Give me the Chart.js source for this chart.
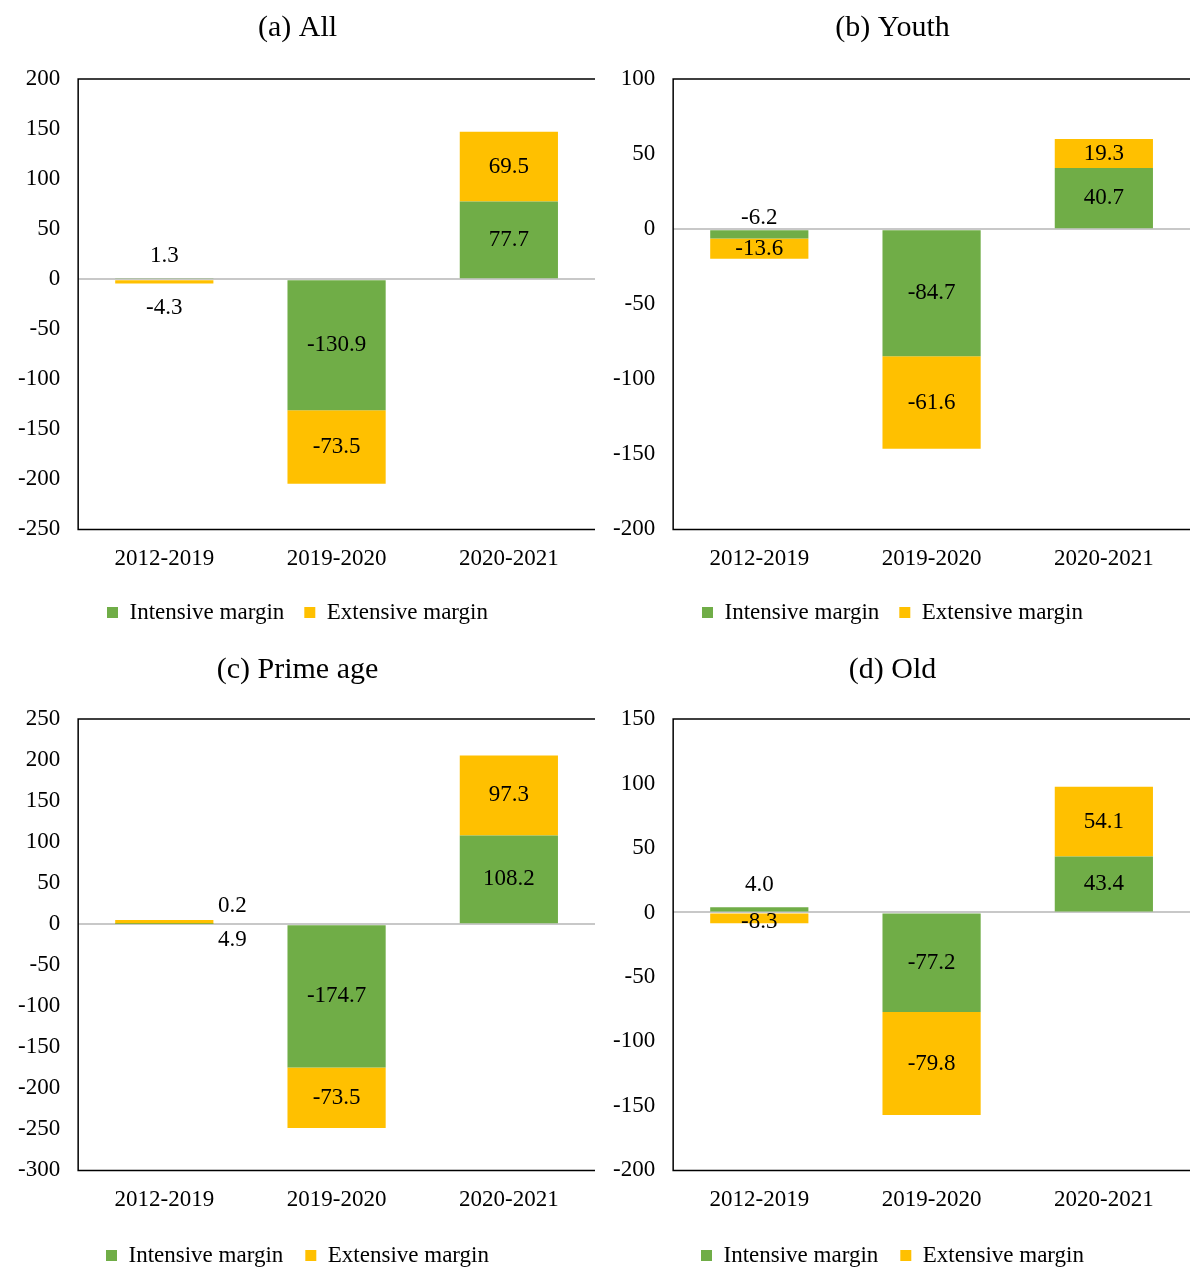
<!DOCTYPE html>
<html><head><meta charset="utf-8">
<script src="https://cdn.jsdelivr.net/npm/chart.js@4"></script>
<style>
body{margin:0;background:#fff;overflow:hidden;}
#grid{display:grid;grid-template-columns:595px 595px;grid-template-rows:642px 641px;width:1190px;}
.cell{position:relative;}
</style></head><body>
<div id="grid">
<div class="cell"><canvas id="c0"></canvas></div>
<div class="cell"><canvas id="c1"></canvas></div>
<div class="cell"><canvas id="c2"></canvas></div>
<div class="cell"><canvas id="c3"></canvas></div>
</div>
<script>
const periods = ['2012-2019', '2019-2020', '2020-2021'];
const titles = ['(a) All', '(b) Youth', '(c) Prime age', '(d) Old'];
const intensiveAll = [1.3, -130.9, 77.7];
const extensiveAll = [-4.3, -73.5, 69.5];
const intensiveYouth = [-6.2, -84.7, 40.7];
const extensiveYouth = [-13.6, -61.6, 19.3];
const intensivePrime = [0.2, -174.7, 108.2];
const extensivePrime = [4.9, -73.5, 97.3];
const intensiveOld = [4.0, -77.2, 43.4];
const extensiveOld = [-8.3, -79.8, 54.1];
const yRanges = [[-250, 200], [-200, 100], [-300, 250], [-200, 150]];

const GREEN = '#70AD47', ORANGE = '#FFC000';
const FONT = 'Liberation Serif';

const labelPlugin = {
  id: 'vals',
  afterDatasetsDraw(chart) {
    const ctx = chart.ctx;
    ctx.save();
    ctx.font = '23px ' + FONT;
    ctx.fillStyle = '#000';
    ctx.textAlign = 'center';
    ctx.textBaseline = 'middle';
    chart.data.datasets.forEach((ds, di) => {
      chart.getDatasetMeta(di).data.forEach((bar, i) => {
        const v = ds.data[i];
        const h = Math.abs(bar.base - bar.y);
        let y = (bar.y + bar.base) / 2;
        let x = bar.x;
        if (h < 14) {
          if (chart.canvas.id === 'c2') { x += 68; y = di === 0 ? bar.y - 18 : bar.y + 20; }
          else y = di === 0 ? bar.y - 22 : bar.y + 24;
          if (chart.canvas.id === 'c1' && di === 0) y = bar.base - 12;
          if (chart.canvas.id === 'c3' && di === 1) y = bar.base + 8;
        }
        ctx.fillText(v.toFixed(1), x, y);
      });
    });
    ctx.restore();
  }
};
const framePlugin = {
  id: 'frame',
  afterDraw(chart) {
    const a = chart.chartArea, ctx = chart.ctx;
    ctx.save();
    ctx.strokeStyle = '#000';
    ctx.lineWidth = 1.5;
    ctx.beginPath();
    ctx.moveTo(a.right + 5, a.top); ctx.lineTo(a.left, a.top);
    ctx.lineTo(a.left, a.bottom); ctx.lineTo(a.right + 5, a.bottom);
    ctx.stroke();
    ctx.restore();
  }
};

const sets = [
  [intensiveAll, extensiveAll], [intensiveYouth, extensiveYouth],
  [intensivePrime, extensivePrime], [intensiveOld, extensiveOld]
];
sets.forEach((s, k) => {
  const top = k < 2;
  new Chart(document.getElementById('c' + k), {
    type: 'bar',
    data: {
      labels: periods,
      datasets: [
        { label: 'Intensive margin', data: s[0], backgroundColor: GREEN, categoryPercentage: 0.57, barPercentage: 1 },
        { label: 'Extensive margin', data: s[1], backgroundColor: ORANGE, categoryPercentage: 0.57, barPercentage: 1 }
      ]
    },
    options: {
      responsive: true, maintainAspectRatio: false, animation: false,
      layout: { padding: { left: 0, right: 0, top: 0, bottom: top ? 8 : 6 } },
      plugins: {
        title: { display: true, text: titles[k], color: '#000', font: { family: FONT, size: 30, weight: 'normal' },
                 padding: top ? { top: 10, bottom: 33 } : { top: 10, bottom: 31 } },
        legend: { position: 'bottom', labels: { color: '#000', boxWidth: 11, boxHeight: 11, padding: top ? 20 : 22, font: { family: FONT, size: 23 } } },
        tooltip: { enabled: false }
      },
      scales: {
        x: { stacked: true, grid: { display: false }, border: { display: false },
             ticks: { color: '#000', font: { family: FONT, size: 23 }, padding: 8 } },
        y: { stacked: true, min: yRanges[k][0], max: yRanges[k][1],
             border: { display: false },
             grid: { drawTicks: false, color: c => c.tick.value === 0 ? '#c8c8c8' : 'transparent', lineWidth: 2 },
             ticks: { stepSize: 50, color: '#000', padding: 18, font: { family: FONT, size: 23 } } }
      }
    },
    plugins: [labelPlugin, framePlugin]
  });
});
</script>
</body></html>
